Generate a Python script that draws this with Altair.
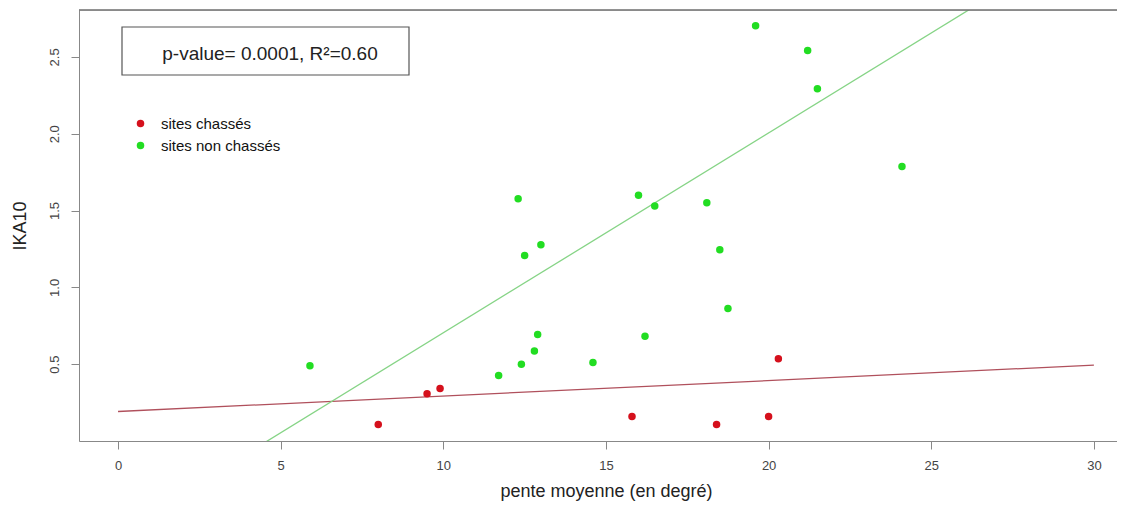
import altair as alt
import pandas as pd

# --- data ---
red_x = [8.0, 9.5, 9.9, 15.8, 18.4, 20.0, 20.3]
red_y = [0.107, 0.307, 0.342, 0.159, 0.107, 0.159, 0.535]
green_x = [5.9, 11.7, 12.3, 12.4, 12.5, 12.8, 12.9, 13.0, 14.6, 16.0,
           16.2, 16.5, 18.1, 18.5, 18.75, 19.6, 21.2, 21.5, 24.1]
green_y = [0.489, 0.426, 1.576, 0.50, 1.208, 0.585, 0.693, 1.277, 0.511, 1.60,
           0.682, 1.529, 1.55, 1.244, 0.863, 2.703, 2.542, 2.292, 1.787]
groups = ["sites chassés", "sites non chassés"]

line_x = [0, 30]
red_line_y = [0.192, 0.494]
green_line_y = [-0.597, 3.306]

x_ticks = [0, 5, 10, 15, 20, 25, 30]
y_ticks = [0.5, 1.0, 1.5, 2.0, 2.5]
annotation = "p-value= 0.0001, R²=0.60"

FONT = "Liberation Sans"
W, H = 1038, 431

pts = pd.DataFrame({
    "x": red_x + green_x,
    "y": red_y + green_y,
    "g": [groups[0]] * len(red_x) + [groups[1]] * len(green_x),
})
red_line = pd.DataFrame({"x": line_x, "y": red_line_y})
green_line = pd.DataFrame({"x": line_x, "y": green_line_y})

xs = alt.Scale(domain=[-1.2, 30.71], nice=False, zero=False)
ys = alt.Scale(domain=[0.0, 2.805], nice=False, zero=False)

x_axis = alt.Axis(values=x_ticks, title="pente moyenne (en degré)", grid=False,
                  tickSize=8, labelPadding=10, labelFontSize=13, labelColor="#444",
                  titleFontSize=18, titleFontWeight="normal", titleColor="#222",
                  titleX=527, titleY=55, titleBaseline="alphabetic", titleAnchor="start",
                  titleAlign="center", labelFlush=False)
y_axis = alt.Axis(values=y_ticks, format=".1f", title="IKA10", grid=False,
                  tickSize=8, labelPadding=10, labelFontSize=13, labelColor="#444",
                  labelAngle=270, labelAlign="center", labelBaseline="bottom",
                  titleFontSize=18, titleFontWeight="normal", titleColor="#222",
                  titleX=-59, titleY=H / 2, titleAngle=270, titleAlign="center",
                  titleBaseline="middle", labelFlush=False)

base_x = alt.X("x:Q", scale=xs, axis=x_axis)
base_y = alt.Y("y:Q", scale=ys, axis=y_axis)

l_red = alt.Chart(red_line).mark_line(color="#b0505c", strokeWidth=1.3, clip=True).encode(
    x=alt.X("x:Q", scale=xs), y=alt.Y("y:Q", scale=ys))
l_green = alt.Chart(green_line).mark_line(color="#86d486", strokeWidth=1.3, clip=True).encode(
    x=alt.X("x:Q", scale=xs), y=alt.Y("y:Q", scale=ys))

points = alt.Chart(pts).mark_point(filled=True, shape="circle", size=56, opacity=1).encode(
    x=base_x, y=base_y,
    color=alt.Color("g:N", scale=alt.Scale(domain=groups, range=["#d5101c", "#22dd22"]),
                    legend=alt.Legend(title=None, orient="none", legendX=54, legendY=106,
                                      symbolSize=56, symbolType="circle", labelFontSize=15,
                                      labelFont=FONT, labelColor="#111", rowPadding=6,
                                      labelOffset=13, padding=0, symbolStrokeWidth=0)),
)

top_border = alt.Chart(pd.DataFrame({"a": [0]})).mark_rule(color="#6e6e6e", strokeWidth=1.3).encode(
    x=alt.value(0), x2=alt.value(W), y=alt.value(0))

box = alt.Chart(pd.DataFrame({"a": [0]})).mark_rect(fill="white", stroke="#555", strokeWidth=1.2).encode(
    x=alt.value(43), x2=alt.value(330), y=alt.value(17), y2=alt.value(65))
box_text = alt.Chart(pd.DataFrame({"t": [annotation]})).mark_text(
    font=FONT, fontSize=19, color="#222", align="center", baseline="alphabetic").encode(
    x=alt.value(191), y=alt.value(50), text="t:N")

chart = alt.layer(l_red, l_green, points, top_border, box, box_text).properties(
    width=W, height=H,
    autosize=alt.AutoSizeParams(type="none"),
    padding={"left": 71, "top": 2, "right": 0, "bottom": 62},
).configure_view(stroke=None).configure_axis(
    domainColor="#6e6e6e", tickColor="#6e6e6e", domainWidth=1.3, tickWidth=1.2,
    labelFont=FONT, titleFont=FONT,
).configure(background="white")

chart.save("out.html", embed_options={"renderer": "svg", "actions": False})
